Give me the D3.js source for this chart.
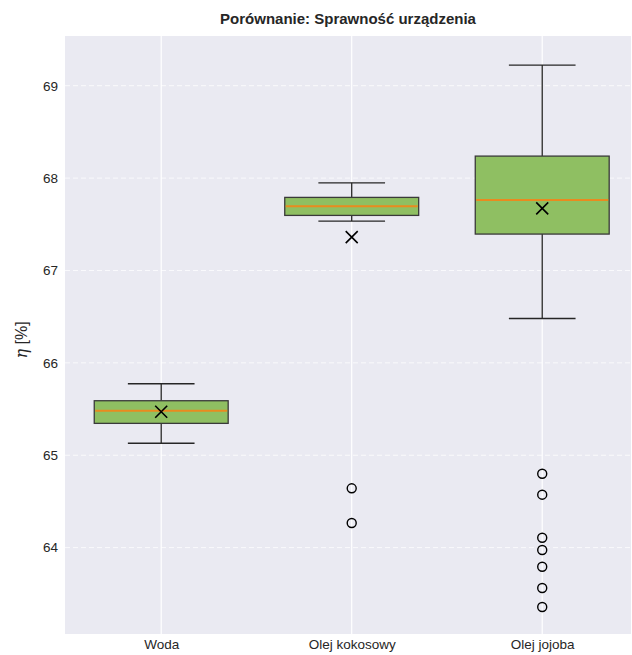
<!DOCTYPE html>
<html>
<head>
<meta charset="utf-8">
<script src="https://cdn.jsdelivr.net/npm/d3@7"></script>
<style>
  body { margin: 0; background: #fff; }
  svg text { font-family: "Liberation Sans", Arial, sans-serif; }
</style>
</head>
<body>
<div id="chart"></div>
<script>
// categories and box statistics
const categories = ['Woda', 'Olej kokosowy', 'Olej jojoba'];
const whiskerLow = [65.13, 67.535, 66.48];
const q1 = [65.345, 67.596, 67.394];
const median = [65.482, 67.694, 67.762];
const q3 = [65.59, 67.791, 68.238];
const whiskerHigh = [65.774, 67.949, 69.223];
const mean = [65.471, 67.361, 67.672];
const outliers = [
  [],
  [64.642, 64.266],
  [64.80, 64.573, 64.107, 63.974, 63.793, 63.563, 63.357]
];
const yTicks = [64, 65, 66, 67, 68, 69];

const width = 632, height = 655;
const plot = {left: 65, right: 631, top: 36, bottom: 634};

const svg = d3.select('#chart').append('svg')
  .attr('width', width)
  .attr('height', height);

const x = d3.scaleLinear().domain([0.495, 3.466]).range([plot.left, plot.right]);
const y = d3.scaleLinear().domain([63.065, 69.538]).range([plot.bottom, plot.top]);

svg.append('rect')
  .attr('x', plot.left).attr('y', plot.top)
  .attr('width', plot.right - plot.left)
  .attr('height', plot.bottom - plot.top)
  .attr('fill', '#eaeaf2');

// horizontal grid (dashed)
svg.append('g')
  .selectAll('line')
  .data(yTicks)
  .enter().append('line')
  .attr('x1', plot.left).attr('x2', plot.right)
  .attr('y1', d => y(d)).attr('y2', d => y(d))
  .attr('stroke', '#ffffff')
  .attr('stroke-opacity', 0.75)
  .attr('stroke-width', 1)
  .attr('stroke-dasharray', '5,3');

// vertical grid (solid)
svg.append('g')
  .selectAll('line')
  .data(categories)
  .enter().append('line')
  .attr('x1', (d, i) => x(i + 1)).attr('x2', (d, i) => x(i + 1))
  .attr('y1', plot.top).attr('y2', plot.bottom)
  .attr('stroke', '#ffffff')
  .attr('stroke-width', 1.2);

// y axis
const yAxis = svg.append('g')
  .attr('transform', 'translate(' + plot.left + ',0)')
  .call(d3.axisLeft(y).tickValues(yTicks).tickSize(0).tickPadding(7).tickFormat(d3.format('d')));
yAxis.select('.domain').remove();
yAxis.selectAll('text')
  .style('font-size', '13.5px')
  .attr('fill', '#262626');

// x axis
const xAxis = svg.append('g')
  .attr('transform', 'translate(0,' + plot.bottom + ')')
  .call(d3.axisBottom(x).tickValues([1, 2, 3]).tickSize(0).tickPadding(5)
    .tickFormat(d => categories[d - 1]));
xAxis.select('.domain').remove();
xAxis.selectAll('text')
  .style('font-size', '13.5px')
  .attr('fill', '#262626');

const boxW = 0.703, capW = 0.35;

const g = svg.append('g')
  .selectAll('g')
  .data(categories)
  .enter().append('g');

// whiskers
g.append('line')
  .attr('x1', (d, i) => x(i + 1)).attr('x2', (d, i) => x(i + 1))
  .attr('y1', (d, i) => y(whiskerHigh[i])).attr('y2', (d, i) => y(q3[i]))
  .attr('stroke', '#262626').attr('stroke-width', 1.3);
g.append('line')
  .attr('x1', (d, i) => x(i + 1)).attr('x2', (d, i) => x(i + 1))
  .attr('y1', (d, i) => y(q1[i])).attr('y2', (d, i) => y(whiskerLow[i]))
  .attr('stroke', '#262626').attr('stroke-width', 1.3);

// caps
[whiskerHigh, whiskerLow].forEach(arr => {
  g.append('line')
    .attr('x1', (d, i) => x(i + 1 - capW / 2)).attr('x2', (d, i) => x(i + 1 + capW / 2))
    .attr('y1', (d, i) => y(arr[i])).attr('y2', (d, i) => y(arr[i]))
    .attr('stroke', '#262626').attr('stroke-width', 1.3);
});

// boxes
g.append('rect')
  .attr('x', (d, i) => x(i + 1 - boxW / 2))
  .attr('width', (d, i) => x(i + 1 + boxW / 2) - x(i + 1 - boxW / 2))
  .attr('y', (d, i) => y(q3[i]))
  .attr('height', (d, i) => y(q1[i]) - y(q3[i]))
  .attr('fill', '#8fbf62')
  .attr('stroke', '#3a3a3a')
  .attr('stroke-width', 1.3);

// medians
g.append('line')
  .attr('x1', (d, i) => x(i + 1 - boxW / 2) + 1).attr('x2', (d, i) => x(i + 1 + boxW / 2) - 1)
  .attr('y1', (d, i) => y(median[i])).attr('y2', (d, i) => y(median[i]))
  .attr('stroke', '#ea8a1f').attr('stroke-width', 2);

// means (x marker)
const ms = 6;
g.append('path')
  .attr('d', (d, i) => {
    const cx = x(i + 1), cy = y(mean[i]);
    return 'M' + (cx - ms) + ',' + (cy - ms) + 'L' + (cx + ms) + ',' + (cy + ms) +
      'M' + (cx - ms) + ',' + (cy + ms) + 'L' + (cx + ms) + ',' + (cy - ms);
  })
  .attr('stroke', '#000').attr('stroke-width', 1.6).attr('fill', 'none');

// outliers
g.each(function (d, i) {
  d3.select(this).selectAll('circle')
    .data(outliers[i])
    .enter().append('circle')
    .attr('cx', x(i + 1))
    .attr('cy', v => y(v))
    .attr('r', 4.5)
    .attr('fill', 'none')
    .attr('stroke', '#000')
    .attr('stroke-width', 1.4);
});

// title
svg.append('text')
  .attr('x', (plot.left + plot.right) / 2)
  .attr('y', 24)
  .attr('text-anchor', 'middle')
  .style('font-size', '15px')
  .style('font-weight', 'bold')
  .attr('fill', '#262626')
  .text('Porównanie: Sprawność urządzenia');

// y label
const yl = svg.append('text')
  .attr('transform', 'translate(27,' + 340 + ') rotate(-90)')
  .attr('text-anchor', 'middle')
  .style('font-size', '16px')
  .attr('fill', '#262626');
yl.append('tspan').style('font-style', 'italic').style('font-family', '"DejaVu Serif", serif').text('η');
yl.append('tspan').text(' [%]');
</script>
</body>
</html>
